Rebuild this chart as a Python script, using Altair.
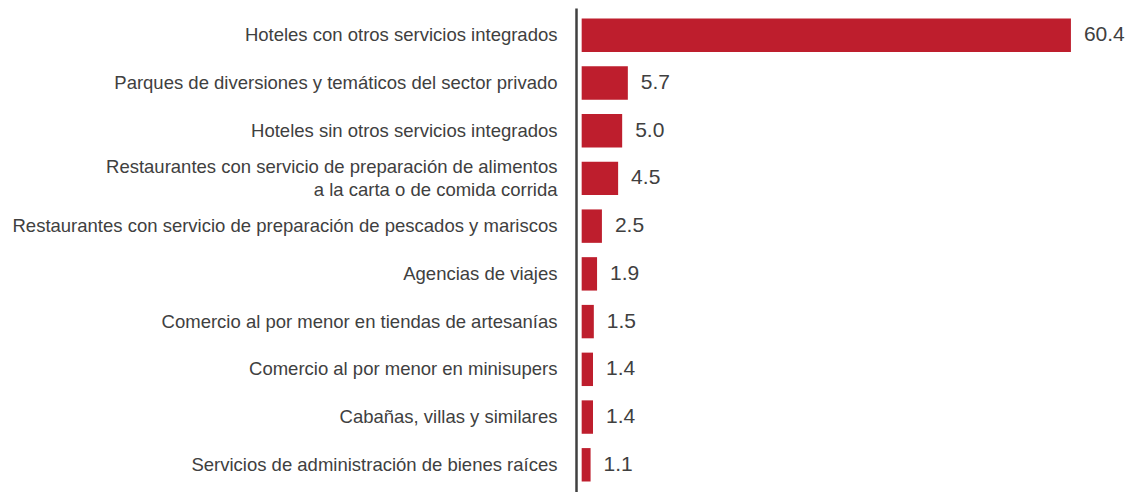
import altair as alt
import pandas as pd

categories = [
    "Hoteles con otros servicios integrados",
    "Parques de diversiones y temáticos del sector privado",
    "Hoteles sin otros servicios integrados",
    "Restaurantes con servicio de preparación de alimentos|a la carta o de comida corrida",
    "Restaurantes con servicio de preparación de pescados y mariscos",
    "Agencias de viajes",
    "Comercio al por menor en tiendas de artesanías",
    "Comercio al por menor en minisupers",
    "Cabañas, villas y similares",
    "Servicios de administración de bienes raíces",
]
values = [60.4, 5.7, 5.0, 4.5, 2.5, 1.9, 1.5, 1.4, 1.4, 1.1]

df = pd.DataFrame({"cat": categories, "val": values})
df["lbl"] = df["val"].map(lambda v: f"{v:.1f}")

y_enc = alt.Y(
    "cat:N",
    sort=categories,
    scale=alt.Scale(paddingInner=0.3, paddingOuter=0.22),
    axis=alt.Axis(
        title=None,
        ticks=False,
        labelFont="Liberation Sans",
        labelFontSize=18.5,
        labelColor="#404040",
        labelPadding=19,
        labelLimit=1000,
        labelLineHeight=23,
        labelExpr="split(datum.label, '|')",
        labelOffset=alt.ExprRef("indexof(datum.value, '|') >= 0 ? -11 : 0"),
        domainColor="#404040",
        domainWidth=2.5,
    ),
)
x_scale = alt.Scale(domain=[-0.7, 65.1], nice=False, zero=False)

bars = alt.Chart(df).mark_bar(color="#BE1E2D").encode(
    y=y_enc,
    x=alt.X("zero:Q", scale=x_scale, axis=None),
    x2="val:Q",
).transform_calculate(zero="0")

text = alt.Chart(df).mark_text(
    align="left", baseline="middle", dx=13,
    font="Liberation Sans", fontSize=21, color="#404040",
).encode(
    y=alt.Y("cat:N", sort=categories),
    x=alt.X("val:Q", scale=x_scale, axis=None),
    text="lbl:N",
)

chart = alt.layer(bars, text).properties(
    width=533,
    height=484,
    background="white",
    autosize=alt.AutoSizeParams(type="none"),
    padding={"left": 568, "top": 0, "right": 16, "bottom": 0},
).configure_view(strokeWidth=0)

chart.save("out.html", embed_options={"renderer": "svg", "actions": False})
